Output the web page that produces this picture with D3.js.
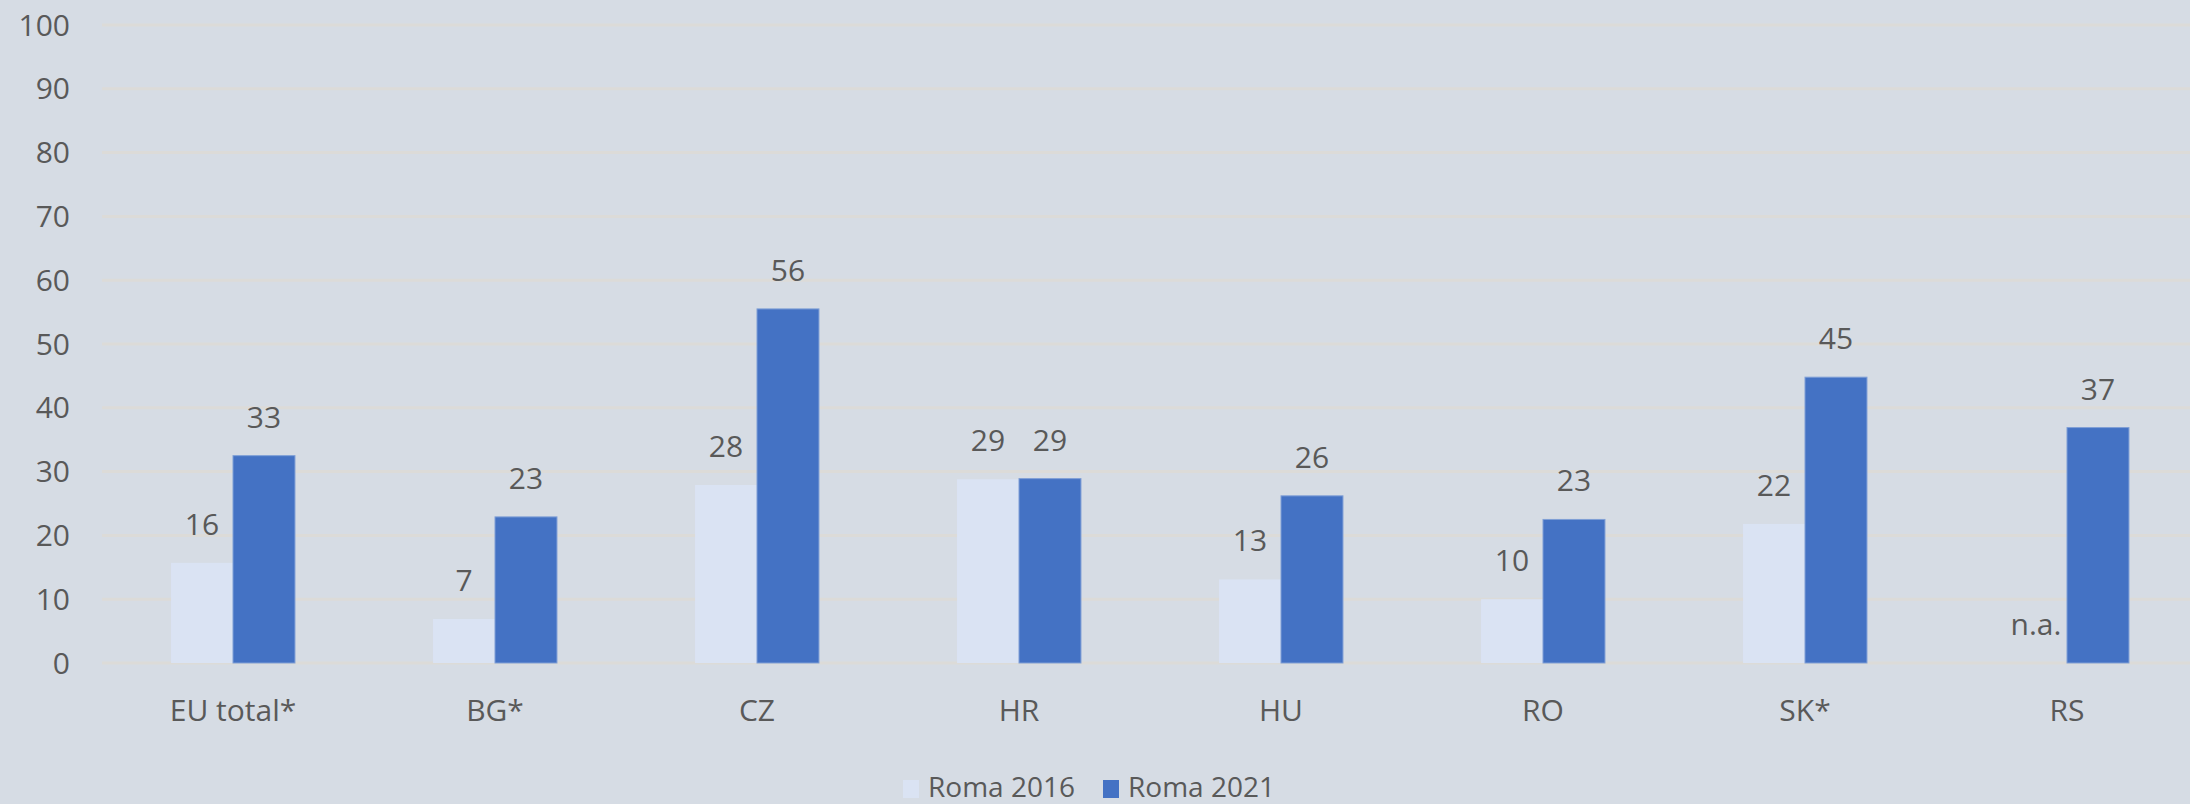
<html>
<head>
<meta charset="utf-8">
<script src="https://cdn.jsdelivr.net/npm/d3@7"></script>
<style>
  body { margin: 0; background: #d6dce4; }
  svg text { font-family: "Open Sans", sans-serif; fill: #595959; }
</style>
</head>
<body>
<svg width="2190" height="804"></svg>
<script>

var categories = ["EU total*", "BG*", "CZ", "HR", "HU", "RO", "SK*", "RS"];
var roma2016 = [15.7, 6.9, 27.9, 28.8, 13.1, 10.0, 21.8, null];
var roma2021 = [32.5, 22.9, 55.5, 28.9, 26.2, 22.5, 44.8, 36.9];
var seriesNames = ["Roma 2016", "Roma 2021"];
var colors = ["#dae3f3", "#4472c4"];
var yTicks = [0, 10, 20, 30, 40, 50, 60, 70, 80, 90, 100];

var svg = d3.select("svg"),
    width = +svg.attr("width"),
    height = +svg.attr("height");

svg.append("rect").attr("width", width).attr("height", height).attr("fill", "#d6dce4");

var x = d3.scaleBand()
    .domain(categories)
    .range([102, 2198])
    .paddingInner(0.527)
    .paddingOuter(0.2635);

var x1 = d3.scaleBand()
    .domain([0, 1])
    .range([0, x.bandwidth()]);

var y = d3.scaleLinear()
    .domain([0, 100])
    .range([663, 25]);

// gridlines
svg.append("g")
  .selectAll("line")
  .data(yTicks)
  .enter().append("line")
    .attr("x1", 102)
    .attr("x2", width)
    .attr("y1", function(d) { return y(d); })
    .attr("y2", function(d) { return y(d); })
    .attr("stroke", "#dcdbd8")
    .attr("stroke-width", 3);

// y tick labels
svg.append("g")
  .selectAll("text")
  .data(yTicks)
  .enter().append("text")
    .attr("x", 70)
    .attr("y", function(d) { return y(d); })
    .attr("dy", "0.35em")
    .attr("text-anchor", "end")
    .attr("font-size", 30)
    .text(function(d) { return d; });

var rows = categories.map(function(c, i) {
  return { cat: c, vals: [roma2016[i], roma2021[i]] };
});

var group = svg.append("g")
  .selectAll("g")
  .data(rows)
  .enter().append("g")
    .attr("transform", function(d) { return "translate(" + x(d.cat) + ",0)"; });

group.selectAll("rect")
  .data(function(d) { return d.vals.map(function(v, k) { return { v: v, k: k }; }); })
  .enter().filter(function(d) { return d.v != null; }).append("rect")
    .attr("x", function(d) { return x1(d.k); })
    .attr("y", function(d) { return y(d.v); })
    .attr("width", x1.bandwidth())
    .attr("height", function(d) { return y(0) - y(d.v); })
    .attr("fill", function(d) { return colors[d.k]; })
    .attr("stroke", function(d) { return d.k == 1 ? "#7f9fd6" : "none"; })
    .attr("stroke-width", 1);

group.selectAll("text.val")
  .data(function(d) { return d.vals.map(function(v, k) { return { v: v, k: k }; }); })
  .enter().append("text")
    .attr("class", "val")
    .attr("x", function(d) { return x1(d.k) + x1.bandwidth() / 2; })
    .attr("y", function(d) { return y(d.v == null ? 0 : d.v) - 28; })
    .attr("text-anchor", "middle")
    .attr("font-size", 30)
    .text(function(d) { return d.v == null ? "n.a." : Math.round(d.v); });

// x labels
svg.append("g")
  .selectAll("text")
  .data(categories)
  .enter().append("text")
    .attr("x", function(d) { return x(d) + x.bandwidth() / 2; })
    .attr("y", 721)
    .attr("text-anchor", "middle")
    .attr("font-size", 30)
    .text(function(d) { return d; });

// legend
var legendX = [903, 1103];
var legend = svg.append("g")
  .selectAll("g")
  .data(seriesNames)
  .enter().append("g")
    .attr("transform", function(d, i) { return "translate(" + legendX[i] + ",0)"; });

legend.append("rect")
    .attr("x", 0)
    .attr("y", 780)
    .attr("width", 16)
    .attr("height", 18)
    .attr("fill", function(d, i) { return colors[i]; });

legend.append("text")
    .attr("x", 25)
    .attr("y", 797)
    .attr("font-size", 28)
    .text(function(d) { return d; });

</script>
</body>
</html>
